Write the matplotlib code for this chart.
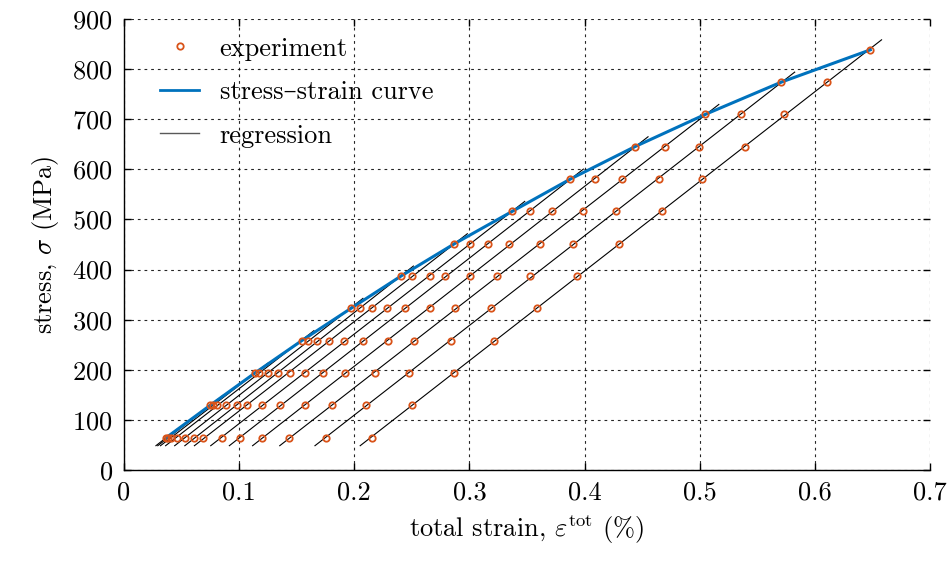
import numpy as np
import matplotlib
matplotlib.use("Agg")
import matplotlib.pyplot as plt
from matplotlib.lines import Line2D

plt.rcParams['font.family'] = ['cmr10', 'DejaVu Serif']
plt.rcParams['mathtext.fontset'] = 'cm'
plt.rcParams['axes.formatter.use_mathtext'] = True

# stress levels (MPa)
stress = [64.5, 129, 193.5, 258, 322.5, 387, 451.5, 516, 580.5, 645, 709.5, 774, 838.5]

# measured total strain (%) per stress level, for cycles j..13
row_064 = [0.0367, 0.0384, 0.0406, 0.0458, 0.0534, 0.0612, 0.0690, 0.0850, 0.1012, 0.1200, 0.1435, 0.1754, 0.2151]
row_129 = [0.0748, 0.0777, 0.0806, 0.0882, 0.0986, 0.1067, 0.1197, 0.1357, 0.1569, 0.1809, 0.2103, 0.2499]
row_193 = [0.1137, 0.1171, 0.1252, 0.1334, 0.1438, 0.1571, 0.1730, 0.1917, 0.2180, 0.2473, 0.2870]
row_258 = [0.1543, 0.1595, 0.1673, 0.1783, 0.1913, 0.2073, 0.2290, 0.2522, 0.2841, 0.3212]
row_322 = [0.1971, 0.2050, 0.2154, 0.2284, 0.2443, 0.2661, 0.2873, 0.3189, 0.3586]
row_387 = [0.2406, 0.2499, 0.2658, 0.2789, 0.3003, 0.3241, 0.3530, 0.3934]
row_451 = [0.2870, 0.3003, 0.3163, 0.3348, 0.3612, 0.3902, 0.4302]
row_516 = [0.3371, 0.3530, 0.3719, 0.3986, 0.4273, 0.4673]
row_580 = [0.3876, 0.4090, 0.4328, 0.4643, 0.5017]
row_645 = [0.4435, 0.4699, 0.4991, 0.5391]
row_709 = [0.5047, 0.5363, 0.5734]
row_774 = [0.5708, 0.6108]
row_838 = [0.6482]

rows = [row_064, row_129, row_193, row_258, row_322, row_387, row_451,
        row_516, row_580, row_645, row_709, row_774, row_838]

xticks = [0, 0.1, 0.2, 0.3, 0.4, 0.5, 0.6, 0.7]
xticklabels = ['0', '0.1', '0.2', '0.3', '0.4', '0.5', '0.6', '0.7']
yticks = [0, 100, 200, 300, 400, 500, 600, 700, 800, 900]

c_exp = '#D95319'
c_curve = '#0072BD'

fig = plt.figure(figsize=(9.47, 5.61), dpi=100)
ax = fig.add_axes([0.1309, 0.1622, 0.8511, 0.8039])

n = len(stress)
cycles = []
for i in range(n):
    s = [stress[j] for j in range(i + 1)]
    e = [rows[j][i - j] for j in range(i + 1)]
    cycles.append((np.array(s), np.array(e)))

# regression lines
fits = []
for s, e in cycles:
    if len(s) >= 2:
        fits.append(np.polyfit(s, e, 1))
    else:
        fits.append(None)
mean_slope = np.mean([f[0] for f in fits if f is not None])
for (s, e), f in zip(cycles, fits):
    if f is None:
        f = (mean_slope, e[0] - mean_slope * s[0])
    ss = np.array([48.5, s.max() + 20])
    ax.plot(np.polyval(f, ss), ss, color='k', lw=0.8, zorder=2)

# stress-strain curve through the tops
tops_e = [rows[i][0] for i in range(n)]
ax.plot(tops_e, stress, color=c_curve, lw=2.2, zorder=3)

# experiment points
for s, e in cycles:
    ax.plot(e, s, linestyle='none', marker='o', ms=4.6, mfc='none',
            mec=c_exp, mew=1.3, zorder=4)

ax.set_xlim(0, 0.7)
ax.set_ylim(0, 900)
ax.set_xticks(xticks)
ax.set_xticklabels(xticklabels)
ax.set_yticks(yticks)
ax.grid(True, color='k', lw=0.8, linestyle=(0, (2.5, 3.5)), alpha=0.85)
ax.tick_params(direction='in', length=5, width=1, labelsize=19, top=True, right=True, pad=8)
ax.spines['top'].set_visible(False)
ax.spines['right'].set_visible(False)
for sp in ax.spines.values():
    sp.set_linewidth(1.0)

ax.set_xlabel(r'total strain, $\varepsilon^{\mathrm{tot}}$ (%)', fontsize=19, labelpad=6)
ax.set_ylabel(r'stress, $\sigma$ (MPa)', fontsize=19, labelpad=8)

handles = [
    Line2D([], [], linestyle='none', marker='o', ms=4.6, mfc='none', mec=c_exp, mew=1.3),
    Line2D([], [], color=c_curve, lw=2.0),
    Line2D([], [], color='0.35', lw=1.0),
]
ax.legend(handles, ['experiment', 'stress–strain curve', 'regression'],
          loc='upper left', bbox_to_anchor=(0.038, 0.972), frameon=False,
          fontsize=19, handlelength=1.5, borderaxespad=0.0, borderpad=0.2,
          labelspacing=0.75, handletextpad=0.76)

fig.savefig('out.png', dpi=100)
